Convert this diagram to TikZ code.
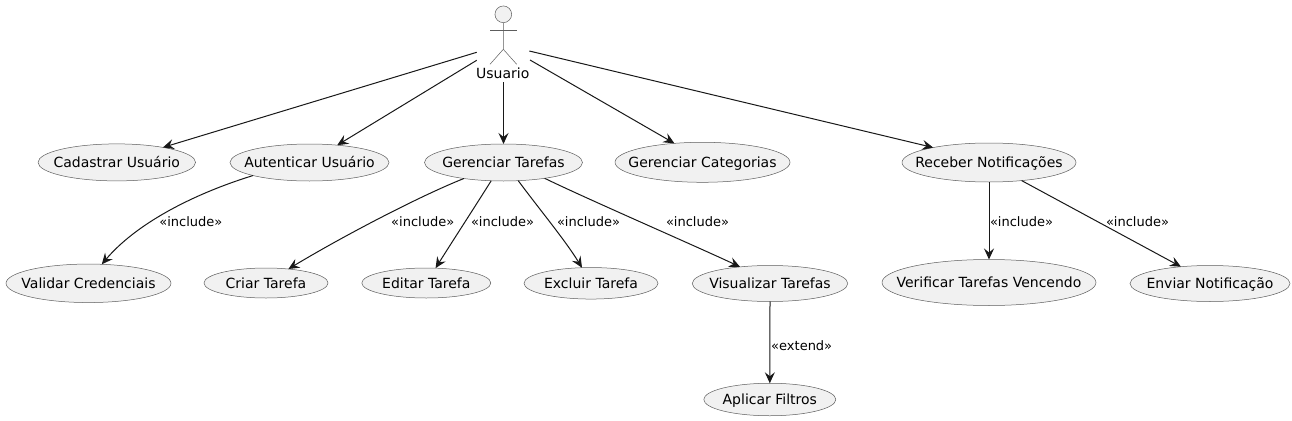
\documentclass[tikz,border=0pt]{standalone}
\usepackage{fontspec}
\setmainfont{DejaVu Sans}
\usetikzlibrary{arrows.meta,shapes.geometric}
\definecolor{uc}{HTML}{F1F1F1}
\definecolor{ln}{HTML}{181818}
\tikzset{
  x=1pt,y=-1pt,
  case/.style={ellipse,draw=ln!70,fill=uc,line width=.5pt,inner sep=0pt,outer sep=0pt,font=\fontsize{14}{16}\selectfont,text=black},
  conn/.style={draw=ln,line width=1pt,-{Stealth[length=11pt,width=10pt,inset=4pt]}},
  lbl/.style={font=\fontsize{13}{15}\selectfont,text=black,inner sep=0pt},
  stick/.style={draw=ln!70,line width=.5pt}
}
\newcommand{\uc}[6]{\node[case,minimum width=#4pt,minimum height=#5pt] (#1) at (#2,#3) {\makebox[0pt]{#6}\vphantom{Ág}};}
\begin{document}
\begin{tikzpicture}
\useasboundingbox[fill=white] (0,0) rectangle (1292,420);
% actor
\node[circle,draw=ln!70,fill=uc,line width=.5pt,minimum size=16.7pt,inner sep=0pt] (head) at (503.3,14.3) {};
\coordinate (hip) at (503.3,49.3);
\coordinate (armL) at (490,30);
\coordinate (armR) at (516.7,30);
\coordinate (legL) at (490,64.3);
\coordinate (legR) at (516.7,64.3);
\draw[stick] (head.south) -- (hip) -- (legL);
\draw[stick] (hip) -- (legR);
\draw[stick] (armL) -- (armR);
\node[font=\fontsize{14}{16}\selectfont,inner sep=0pt] (usuario) at (502.7,73) {Usuario};
\coordinate (u1) at (476.7,52.3);
\coordinate (u2) at (476.7,60.3);
\coordinate (u3) at (503.5,82.3);
\coordinate (u4) at (530,60);
\coordinate (u5) at (529.3,51);
% use cases
\uc{cad}{116.8}{162.4}{157.5}{37}{Cadastrar Usuário}
\uc{aut}{309.5}{162.5}{159}{37}{Autenticar Usuário}
\uc{ger}{503.5}{162.5}{158}{37}{Gerenciar Tarefas}
\uc{cat}{702.5}{162.3}{175}{40}{Gerenciar Categorias}
\uc{rec}{989}{162.5}{174}{39}{Receber Notificações}
\uc{val}{88.5}{283.3}{165}{38.5}{Validar Credenciais}
\uc{cri}{266}{283}{124}{30}{Criar Tarefa}
\uc{edi}{426.3}{283}{129}{30}{Editar Tarefa}
\uc{exc}{591}{283.3}{134}{31.5}{Excluir Tarefa}
\uc{vis}{770}{283.5}{155.5}{36}{Visualizar Tarefas}
\uc{fil}{769.8}{399.5}{132}{32.5}{Aplicar Filtros}
\uc{ver}{989}{282.5}{214}{46}{Verificar Tarefas Vencendo}
\uc{env}{1210}{283.5}{160}{36}{Enviar Notificação}
% connectors
\draw[conn] (u1) -- (cad.18.3);
\draw[conn] (u2) -- (aut.32.5);
\draw[conn] (u3) -- (ger.north);
\draw[conn] (u4) -- (cat.146.8);
\draw[conn] (u5) -- (rec.165.3);
\draw[conn] (aut.-167.7) .. controls (190,195) and (135,225) .. (val.55);
\draw[conn] (ger.202.5) .. controls (420,196) and (345,235) .. (cri.32.5);
\draw[conn] (ger.236) .. controls (476,205) and (452,242) .. (edi.58);
\draw[conn] (ger.-51.7) .. controls (540,210) and (565,240) .. (exc.120.6);
\draw[conn] (ger.-21.8) .. controls (585,198) and (700,248) .. (vis.151.5);
\draw[conn] (vis.south) -- (fil.north);
\draw[conn] (rec.south) -- (ver.north);
\draw[conn] (rec.-29.3) -- (env.150.8);
% labels
\node[lbl] (l1) at (190.8,221.5) {«include»};
\node[lbl] (l2) at (422.7,221.5) {«include»};
\node[lbl] (l3) at (502.5,221.5) {«include»};
\node[lbl] (l4) at (588.5,221.5) {«include»};
\node[lbl] (l5) at (697.5,221.5) {«include»};
\node[lbl] (l6) at (1021.5,221.5) {«include»};
\node[lbl] (l7) at (1137.5,221.5) {«include»};
\node[lbl] (l8) at (801.7,345.5) {«extend»};
\end{tikzpicture}
\end{document}
